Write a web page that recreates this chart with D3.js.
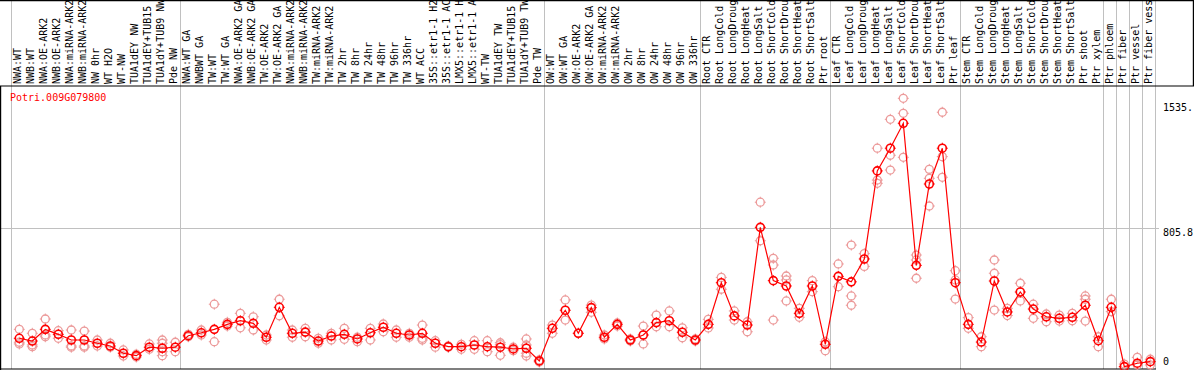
<!DOCTYPE html>
<html><head><meta charset="utf-8">
<script src="https://cdn.jsdelivr.net/npm/d3@7"></script>
<style>
html,body{margin:0;padding:0;background:#fff;}
svg{display:block;}
text{font-family:"DejaVu Sans Mono",monospace;font-size:10px;}
</style></head>
<body>
<script>
const geneName = "Potri.009G079800";
const categories = [
 "NWA:WT","NWB:WT","NWA:OE-ARK2","NWB:OE-ARK2","NWA:miRNA-ARK2","NWB:miRNA-ARK2","NW 0hr","WT H2O","WT-NW","TUA1dEY NW","TUA1dEY+TUB15 NW","TUA1dY+TUB9 NW","Pde NW",
 "NWA:WT GA","NWBWT GA","TW:WT","TW:WT GA","NWA:OE-ARK2 GA","NWB:OE-ARK2 GA","TW:OE-ARK2","TW:OE-ARK2 GA","NWA:miRNA-ARK2 GA","NWB:miRNA-ARK2 GA","TW:miRNA-ARK2","TW:miRNA-ARK2 GA","TW 2hr","TW 8hr","TW 24hr","TW 48hr","TW 96hr","TW 336hr","WT ACC","35S::etr1-1 H2O","35S::etr1-1 ACC","LMX5::etr1-1 H2O","LMX5::etr1-1 ACC","WT-TW","TUA1dEY TW","TUA1dEY+TUB15 TW","TUA1dY+TUB9 TW","Pde TW",
 "OW:WT","OW:WT GA","OW:OE-ARK2","OW:OE-ARK2 GA","OW:miRNA-ARK2","OW:miRNA-ARK2 GA","OW 2hr","OW 8hr","OW 24hr","OW 48hr","OW 96hr","OW 336hr",
 "Root CTR","Root LongCold","Root LongDrought","Root LongHeat","Root LongSalt","Root ShortCold","Root ShortDrought","Root ShortHeat","Root ShortSalt","Ptr root",
 "Leaf CTR","Leaf LongCold","Leaf LongDrought","Leaf LongHeat","Leaf LongSalt","Leaf ShortCold","Leaf ShortDrought","Leaf ShortHeat","Leaf ShortSalt","Ptr leaf",
 "Stem CTR","Stem LongCold","Stem LongDrought","Stem LongHeat","Stem LongSalt","Stem ShortCold","Stem ShortDrought","Stem ShortHeat","Stem ShortSalt","Ptr shoot","Ptr xylem",
 "Ptr phloem","Ptr fiber","Ptr vessel","Ptr fiber vessel"
];
// first category index of each group
const groupStarts = [0,13,41,53,63,73,84,85,86,87];
const meanValues = [
 167,151,219,190,157,157,138,122,80,66,115,109,115,
 182,199,219,248,269,254,173,347,196,203,151,180,190,163,199,231,196,186,196,138,118,118,128,118,115,105,109,35,
 225,330,196,345,173,248,157,186,258,269,202,157,
 248,490,297,244,812,502,471,312,471,132,
 527,495,628,1140,1272,1417,591,1064,1272,490,
 248,145,500,320,436,337,292,283,289,359,153,
 347,2,22,31
];
const replicateValues = [
 [219,144,134],[196,128,118],[279,186,176],[211,167],[215,122,115],[209,122,115],[157,122],[138,115],[99,64],[74,58],[134,103],[157,138,89,66],[144,89],
 [190,176],[215,186],[365,147],[260,238],[312,228],[292,215],[186,157],[394,298],[215,173],[225,176],[167,138],[196,157],[225,161],[173,147],[225,157],[250,205],[215,173],[196,173],[244,167,157],[153,115],[122,115],[132,103],[153,103],[153,89],[141,130,68],[115,95],[163,128,80,64],[41,29],
 [244,196],[390,273],[196],[360,318],[186,163],[256,238],[163,151],[238,134],[302,234],[326,234],[228,170],[163,151],
 [277,227],[521,452],[326,273],[263,205],[958,734],[632,593,273],[529,506,384],[341,289],[502,438],[147,95],
 [599,467],[709,413,359],[659,585],[1272,1087,1068],[1440,1231,1145],[1562,1475,1219],[651,622,516],[1149,1097,936],[1481,1223,1103],[560,506,395],
 [287,225],[176,118],[622,545,331],[341,299],[487,384],[365,283],[308,263],[302,267],[312,269],[413,394,267],[176,118],
 [394,322],[17],[56,12],[45,12]
];
const yTickValues = [0, 805.8, 1535];
const yTickLabels = ["0","805.8","1535."];

const W = 1194, H = 370;
const svg = d3.select("body").append("svg").attr("width", W).attr("height", H);

const band = d3.scaleBand().domain(d3.range(categories.length)).range([11, 1155]).padding(0);
const pointOffset = 8.3;
const px = i => band(i) + pointOffset;
const y = d3.scaleLinear().domain([0, 1611.6]).range([367, 89.8]);

const headerBottom = 86, plotBottom = 369;

// gridlines
const gridX = groupStarts.map(i => band(i)).concat([band.range()[1]]);
svg.append("g").selectAll("line").data(gridX).join("line")
  .attr("x1", d => Math.round(d) + 0.5).attr("x2", d => Math.round(d) + 0.5)
  .attr("y1", 0).attr("y2", plotBottom)
  .attr("stroke", "#c0c0c0").attr("stroke-width", 1);
svg.append("line").attr("x1", 0).attr("x2", 1159)
  .attr("y1", Math.round(y(805.8)) + 0.5).attr("y2", Math.round(y(805.8)) + 0.5)
  .attr("stroke", "#c0c0c0").attr("stroke-width", 1);

// frame
const frame = svg.append("g").attr("stroke", "#000").attr("stroke-width", 1.2);
frame.append("line").attr("x1", 0).attr("x2", W).attr("y1", 0.6).attr("y2", 0.6);
frame.append("line").attr("x1", 0).attr("x2", W).attr("y1", headerBottom).attr("y2", headerBottom);
frame.append("line").attr("x1", 0.6).attr("x2", 0.6).attr("y1", headerBottom).attr("y2", plotBottom + 1);
frame.append("line").attr("x1", W - 0.6).attr("x2", W - 0.6).attr("y1", 0).attr("y2", headerBottom);
frame.append("line").attr("x1", 0).attr("x2", 1156).attr("y1", plotBottom).attr("y2", plotBottom);

// header labels
svg.append("g").selectAll("text").data(categories).join("text")
  .attr("transform", (d, i) => `translate(${band(i) + 10.3},${headerBottom - 2}) rotate(-90)`)
  .attr("text-anchor", "start")
  .attr("fill", "#000")
  .text(d => d);

// title
svg.append("text").attr("x", 10).attr("y", 101).attr("fill", "#f00").text(geneName);

// right axis labels
svg.append("g").selectAll("text").data(yTickValues).join("text")
  .attr("x", 1163)
  .attr("y", (d, i) => d === 0 ? y(d) - 2 : y(d) + 8)
  .attr("fill", "#000")
  .text((d, i) => yTickLabels[i]);

function marker(g, color, sw) {
  g.append("circle").attr("r", 4).attr("fill", "none").attr("stroke", color).attr("stroke-width", sw);
  g.append("path").attr("d", "M0,-5.5V-3.5M0,3.5V5.5M-5.5,0H-3.5M3.5,0H5.5")
    .attr("stroke", color).attr("stroke-width", 1).attr("fill", "none");
}

// replicates
const reps = [];
replicateValues.forEach((arr, i) => arr.forEach(v => reps.push({i, v})));
svg.append("g").selectAll("g").data(reps).join("g")
  .attr("transform", d => `translate(${px(d.i)},${y(d.v)})`)
  .each(function() { marker(d3.select(this), "#ec9a9a", 1.3); });

// mean line
const line = d3.line().x((d, i) => px(i)).y(d => y(d));
svg.append("path").datum(meanValues).attr("d", line)
  .attr("fill", "none").attr("stroke", "#f00").attr("stroke-width", 1.2);

// mean markers
svg.append("g").selectAll("g").data(meanValues).join("g")
  .attr("transform", (d, i) => `translate(${px(i)},${y(d)})`)
  .each(function() { marker(d3.select(this), "#f00", 1.6); });
</script>
</body></html>
